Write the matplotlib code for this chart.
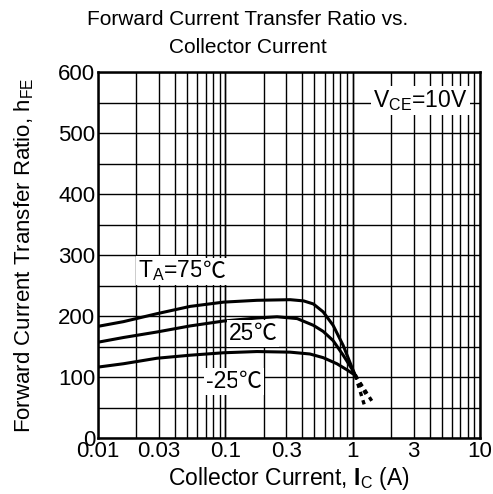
import numpy as np
import matplotlib.pyplot as plt
from matplotlib.ticker import FixedLocator, LogLocator, NullFormatter

plt.rcParams['font.family'] = ['Liberation Sans', 'DejaVu Sans']
plt.rcParams['mathtext.fontset'] = 'custom'
plt.rcParams['mathtext.rm'] = 'Liberation Sans'
plt.rcParams['mathtext.bf'] = 'Liberation Sans:bold'
plt.rcParams['mathtext.it'] = 'Liberation Sans:italic'

# Datos
ic_75 = [0.0104, 0.0158, 0.0289, 0.0528, 0.0965, 0.177, 0.322, 0.411, 0.49, 0.585, 0.70, 0.84, 0.98, 1.045]
hfe_75 = [184, 191, 204, 216, 223, 226, 227, 225, 220, 207, 185, 152, 117, 103]

ic_25 = [0.0104, 0.0158, 0.0289, 0.0528, 0.0965, 0.177, 0.254, 0.366, 0.49, 0.585, 0.70, 0.84, 0.98, 1.045]
hfe_25 = [158, 165, 174, 184, 192, 197, 199, 196, 185, 175, 160, 136, 114, 103]

ic_m25 = [0.0104, 0.0158, 0.0289, 0.0528, 0.0965, 0.177, 0.322, 0.46, 0.585, 0.75, 0.90, 1.045]
hfe_m25 = [117, 122, 131, 136, 140, 142, 141, 138, 132, 122, 112, 103]

# continuacion punteada
ic_dash = {'75': [1.045, 1.25], '25': [1.045, 1.42], '-25': [1.045, 1.30]}
hfe_dash = {'75': [103, 50], '25': [103, 60], '-25': [103, 68]}

xticks = [0.01, 0.03, 0.1, 0.3, 1, 3, 10]
xticklabels = ['0.01', '0.03', '0.1', '0.3', '1', '3', '10']
yticks = [0, 100, 200, 300, 400, 500, 600]

fig = plt.figure(figsize=(4.93, 4.94), dpi=100)
ax = fig.add_axes([0.199, 0.113, 0.775, 0.741])

ax.set_xscale('log')
ax.set_xlim(0.01, 10)
ax.set_ylim(0, 600)

# rejilla
ax.set_xticks(xticks)
ax.set_xticklabels(xticklabels)
ax.xaxis.set_minor_locator(LogLocator(base=10, subs=np.arange(2, 10)))
ax.xaxis.set_minor_formatter(NullFormatter())
ax.set_yticks(yticks)
ax.yaxis.set_minor_locator(FixedLocator(np.arange(50, 600, 100)))
ax.grid(True, which='both', color='black', lw=1.0)
for d in [0.1, 1]:
    ax.axvline(d, color='black', lw=1.0, zorder=0.5)
ax.tick_params(which='both', length=0, labelsize=16, pad=2)
for s in ax.spines.values():
    s.set_linewidth(1.8)

# curvas
ax.plot(ic_75, hfe_75, color='black', lw=2.2, zorder=3)
ax.plot(ic_25, hfe_25, color='black', lw=2.2, zorder=3)
ax.plot(ic_m25, hfe_m25, color='black', lw=2.2, zorder=3)
for k in ic_dash:
    ax.plot(ic_dash[k], hfe_dash[k], color='black', lw=2.4, ls=(0, (1.3, 1.3)), zorder=3)

box = dict(facecolor='white', edgecolor='none', pad=1.5)

def etiqueta(x, y, txt):
    t = ax.text(x, y, txt, fontsize=16.5, va='center', ha='left', bbox=box, zorder=4)
    ax.annotate('\u2103', xy=(1, 0), xycoords=t, va='bottom', ha='left',
                fontsize=16.5, family=['Noto Sans CJK SC', 'DejaVu Sans'],
                bbox=box, zorder=4)

etiqueta(0.0205, 275, r'T$_{\mathrm{A}}$=75')
etiqueta(0.106, 172, '25')
etiqueta(0.07, 93, '-25')

ax.text(1.45, 554, r'V$_{\mathrm{CE}}$=10V', fontsize=16.5, va='center', ha='left',
        bbox=box, zorder=4)

fig.text(0.503, 0.932, 'Forward Current Transfer Ratio vs.\nCollector Current', fontsize=15,
         ha='center', va='center', linespacing=1.6)
ax.set_xlabel(r'Collector Current, $\mathbf{I}_{\mathrm{C}}$ (A)', fontsize=16.5, labelpad=2)
ax.set_ylabel(r'Forward Current Transfer Ratio, h$_{\mathrm{FE}}$', fontsize=16)
ax.yaxis.set_label_coords(-0.162, 0.5)

fig.savefig('out.png', dpi=100)
